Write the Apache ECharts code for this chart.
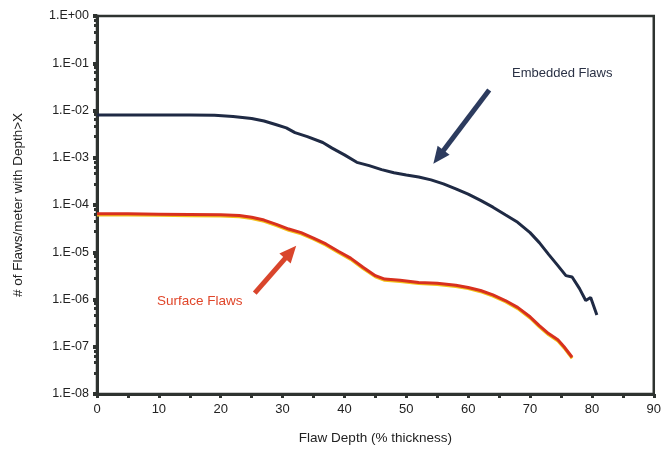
<!DOCTYPE html>
<html>
<head>
<meta charset="utf-8">
<script src="https://cdn.jsdelivr.net/npm/echarts@6/dist/echarts.min.js"></script>
<style>html,body{margin:0;padding:0;background:#fff;}#c{width:664px;height:450px;}</style>
</head>
<body>
<div id="c"></div>
<script>
const xTicks = [0, 10, 20, 30, 40, 50, 60, 70, 80, 90];
const yTicks = [1e-8, 1e-7, 1e-6, 1e-5, 1e-4, 1e-3, 1e-2, 1e-1, 1];

const embeddedX = [0, 5, 10, 15, 19, 22, 25, 27, 29, 30.6, 32, 34, 36.5, 38, 40, 42, 44, 46, 48, 50, 52, 54, 56, 58, 60, 62, 64, 66, 68, 70, 71.5, 73, 74.5, 75.8, 76.8, 78, 79, 79.8, 80.8];
const embeddedY = [8.0e-3, 8.0e-3, 8.0e-3, 8.0e-3, 7.9e-3, 7.5e-3, 6.8e-3, 6.0e-3, 5.0e-3, 4.3e-3, 3.4e-3, 2.8e-3, 2.1e-3, 1.6e-3, 1.15e-3, 8.0e-4, 6.8e-4, 5.6e-4, 4.8e-4, 4.3e-4, 3.9e-4, 3.4e-4, 2.8e-4, 2.2e-4, 1.7e-4, 1.25e-4, 9.0e-5, 6.2e-5, 4.3e-5, 2.6e-5, 1.6e-5, 9.0e-6, 5.2e-6, 3.2e-6, 3.0e-6, 1.7e-6, 9.5e-7, 1.1e-6, 4.7e-7];

const surfaceX = [0, 5, 10, 15, 20, 23, 25, 27, 29, 31, 33, 35, 37, 39, 41, 43, 45, 46.5, 49, 52, 55, 58, 60, 62, 64, 66, 68, 70, 71.5, 73, 74.5, 75.5, 76.8];
const surfaceY = [6.5e-5, 6.5e-5, 6.4e-5, 6.3e-5, 6.2e-5, 6.0e-5, 5.5e-5, 4.8e-5, 3.9e-5, 3.1e-5, 2.6e-5, 2.0e-5, 1.5e-5, 1.05e-5, 7.5e-6, 4.8e-6, 3.2e-6, 2.7e-6, 2.55e-6, 2.3e-6, 2.2e-6, 2.0e-6, 1.8e-6, 1.55e-6, 1.25e-6, 9.5e-7, 6.8e-7, 4.3e-7, 2.8e-7, 1.9e-7, 1.4e-7, 1.0e-7, 6.0e-8];

// annotation arrows (tail, head) in data coordinates
const embeddedArrow = [[63.4, 0.0272], [55.2, 1.04e-3]];
const surfaceArrow = [[25.5, 1.37e-6], [31.3, 1.01e-5]];

const labels = { embedded: 'Embedded Flaws', surface: 'Surface Flaws' };

function zip(xs, ys) { return xs.map((x, i) => [x, ys[i]]); }
function fmtExp(v) {
  const e = Math.round(Math.log10(v));
  const a = Math.abs(e);
  return '1.E' + (e >= 0 ? '+' : '-') + (a < 10 ? '0' : '') + a;
}

const headPath = 'path://M10,0 L20,20 L0,20 Z';

const chart = echarts.init(document.getElementById('c'), null, { renderer: 'canvas' });
const axisCol = '#2e3330';
chart.setOption({
  backgroundColor: '#ffffff',
  animation: false,
  grid: { left: 97, right: 9, top: 16, bottom: 56, show: true, borderColor: axisCol, borderWidth: 2.5, backgroundColor: 'transparent' },
  xAxis: {
    type: 'value', min: xTicks[0], max: xTicks[xTicks.length - 1], interval: 10,
    name: 'Flaw Depth (% thickness)', nameLocation: 'middle', nameGap: 37,
    nameTextStyle: { fontFamily: 'Liberation Sans', fontSize: 13.5, color: '#222' },
    axisLine: { show: true, lineStyle: { color: axisCol, width: 3 } },
    axisTick: { show: true, inside: false, length: 4, lineStyle: { color: axisCol, width: 3 } },
    minorTick: { show: true, splitNumber: 2, length: 4, lineStyle: { color: axisCol, width: 3 } },
    axisLabel: { fontFamily: 'Liberation Sans', fontSize: 13, color: '#222', margin: 9 },
    splitLine: { show: false }
  },
  yAxis: {
    type: 'log', logBase: 10, min: yTicks[0], max: yTicks[yTicks.length - 1],
    name: '# of Flaws/meter with Depth>X', nameLocation: 'middle', nameGap: 72, nameRotate: 90,
    nameTextStyle: { fontFamily: 'Liberation Sans', fontSize: 13.5, color: '#222' },
    axisLine: { show: true, lineStyle: { color: axisCol, width: 3 } },
    axisTick: { show: true, inside: false, length: 4, lineStyle: { color: axisCol, width: 4 } },
    minorTick: { show: true, splitNumber: 5, length: 3, lineStyle: { color: axisCol, width: 3 } },
    axisLabel: { fontFamily: 'Liberation Sans', fontSize: 12.5, color: '#222', margin: 8, formatter: fmtExp },
    splitLine: { show: false }
  },
  series: [
    {
      name: labels.embedded, type: 'line', showSymbol: false, smooth: false,
      data: zip(embeddedX, embeddedY),
      lineStyle: { color: '#1f2a44', width: 3 },
      markLine: {
        silent: true, symbol: ['none', headPath], symbolSize: [15, 17],
        itemStyle: { color: '#2c3b5e' },
        lineStyle: { color: '#2c3b5e', width: 5, type: 'solid' },
        label: { show: false },
        data: [[{ coord: embeddedArrow[0] }, { coord: embeddedArrow[1] }]]
      }
    },
    {
      name: labels.surface, type: 'line', showSymbol: false, smooth: false,
      data: zip(surfaceX, surfaceY),
      lineStyle: { color: '#d8301e', width: 3, shadowColor: '#f2c21a', shadowBlur: 0, shadowOffsetY: 1.2 },
      markLine: {
        silent: true, symbol: ['none', headPath], symbolSize: [15, 17],
        itemStyle: { color: '#d9452c' },
        lineStyle: { color: '#d9452c', width: 5, type: 'solid' },
        label: { show: false },
        data: [[{ coord: surfaceArrow[0] }, { coord: surfaceArrow[1] }]]
      }
    }
  ],
  graphic: [
    { type: 'text', left: 512, top: 67, style: { text: labels.embedded, font: '13px "Liberation Sans"', fill: '#2a3145' } },
    { type: 'text', left: 157, top: 294, style: { text: labels.surface, font: '13.5px "Liberation Sans"', fill: '#e0462a' } }
  ]
});
</script>
</body>
</html>
